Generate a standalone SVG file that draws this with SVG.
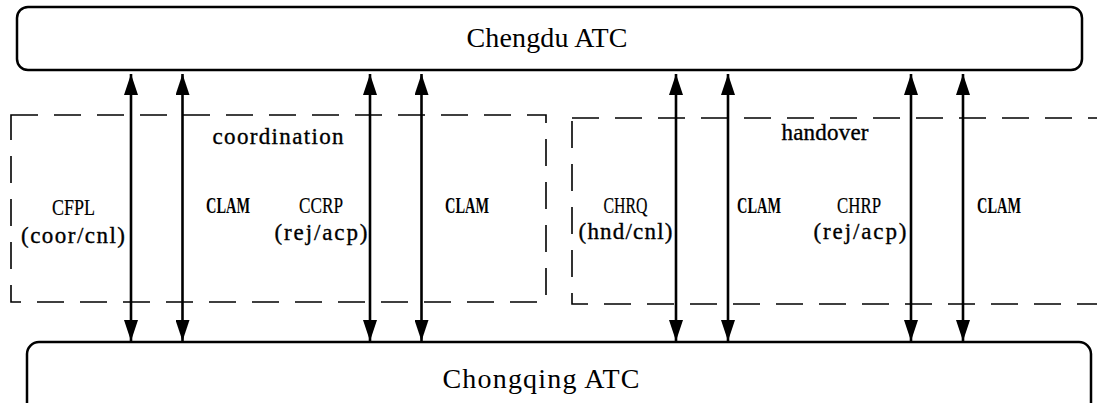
<svg xmlns="http://www.w3.org/2000/svg" width="1097" height="403" viewBox="0 0 1097 403">
<style>
.box{fill:#fff;stroke:#000;stroke-width:2.5}
.grp{fill:none;stroke:#000;stroke-width:1.6;stroke-dasharray:27 16}
.big{font-family:"Liberation Serif",serif;font-size:28px;fill:#000}
.mono{font-family:"Liberation Serif",serif;font-size:23px;fill:#000;stroke:#000;stroke-width:0.35}
.cap{font-family:"Liberation Serif",serif;font-size:24px;fill:#000;stroke:#000;stroke-width:0.2}
.bold{font-family:"Liberation Serif",serif;font-size:23px;font-weight:bold;fill:#000}
.arr{stroke:#000;stroke-width:2.6;fill:none;marker-start:url(#ah);marker-end:url(#ah)}
</style>
<defs>
<marker id="ah" viewBox="0 0 21 14" refX="21" refY="7" markerWidth="21" markerHeight="14" markerUnits="userSpaceOnUse" orient="auto-start-reverse">
<path d="M0,0 L21,7 L0,14 Z" fill="#000"/>
</marker>
</defs>
<g id="chengdu">
<rect class="box" x="17" y="7" width="1065" height="63" rx="11"/>
<text class="big" x="547" y="47" text-anchor="middle" textLength="161" lengthAdjust="spacing">Chengdu ATC</text>
</g>
<g id="chongqing">
<rect class="box" x="27" y="342" width="1064" height="90" rx="12"/>
<text class="big" x="541" y="388" text-anchor="middle" textLength="197" lengthAdjust="spacing">Chongqing ATC</text>
</g>
<g id="coordination">
<rect class="grp" x="11" y="115" width="535" height="187"/>
<text class="mono" x="278" y="144" text-anchor="middle" textLength="131" lengthAdjust="spacing">coordination</text>
</g>
<g id="handover">
<rect class="grp" x="572" y="118" width="560" height="186"/>
<text class="mono" x="825" y="140" text-anchor="middle" textLength="87" lengthAdjust="spacing">handover</text>
</g>
<g id="labels">
<text class="cap" x="73.5" y="215" text-anchor="middle" textLength="43" lengthAdjust="spacingAndGlyphs">CFPL</text>
<text class="mono" x="73" y="243" text-anchor="middle" textLength="104" lengthAdjust="spacing">(coor/cnl)</text>
<text class="bold" x="228" y="213" text-anchor="middle" textLength="44" lengthAdjust="spacingAndGlyphs">CLAM</text>
<text class="cap" x="321" y="213" text-anchor="middle" textLength="44" lengthAdjust="spacingAndGlyphs">CCRP</text>
<text class="mono" x="321" y="240" text-anchor="middle" textLength="93" lengthAdjust="spacing">(rej/acp)</text>
<text class="bold" x="467" y="213" text-anchor="middle" textLength="44" lengthAdjust="spacingAndGlyphs">CLAM</text>
<text class="cap" x="625.5" y="213" text-anchor="middle" textLength="44" lengthAdjust="spacingAndGlyphs">CHRQ</text>
<text class="mono" x="625.5" y="239" text-anchor="middle" textLength="94" lengthAdjust="spacing">(hnd/cnl)</text>
<text class="bold" x="759" y="213" text-anchor="middle" textLength="44" lengthAdjust="spacingAndGlyphs">CLAM</text>
<text class="cap" x="859" y="213" text-anchor="middle" textLength="44" lengthAdjust="spacingAndGlyphs">CHRP</text>
<text class="mono" x="860" y="239" text-anchor="middle" textLength="93" lengthAdjust="spacing">(rej/acp)</text>
<text class="bold" x="999" y="213" text-anchor="middle" textLength="44" lengthAdjust="spacingAndGlyphs">CLAM</text>
</g>
<g id="connectors">
<line class="arr" x1="131" y1="74" x2="131" y2="341"/>
<line class="arr" x1="182.5" y1="74" x2="182.5" y2="341"/>
<line class="arr" x1="370" y1="74" x2="370" y2="341"/>
<line class="arr" x1="421.5" y1="74" x2="421.5" y2="341"/>
<line class="arr" x1="676" y1="74" x2="676" y2="341"/>
<line class="arr" x1="728" y1="74" x2="728" y2="341"/>
<line class="arr" x1="911" y1="74" x2="911" y2="341"/>
<line class="arr" x1="963" y1="74" x2="963" y2="341"/>
</g>
</svg>
